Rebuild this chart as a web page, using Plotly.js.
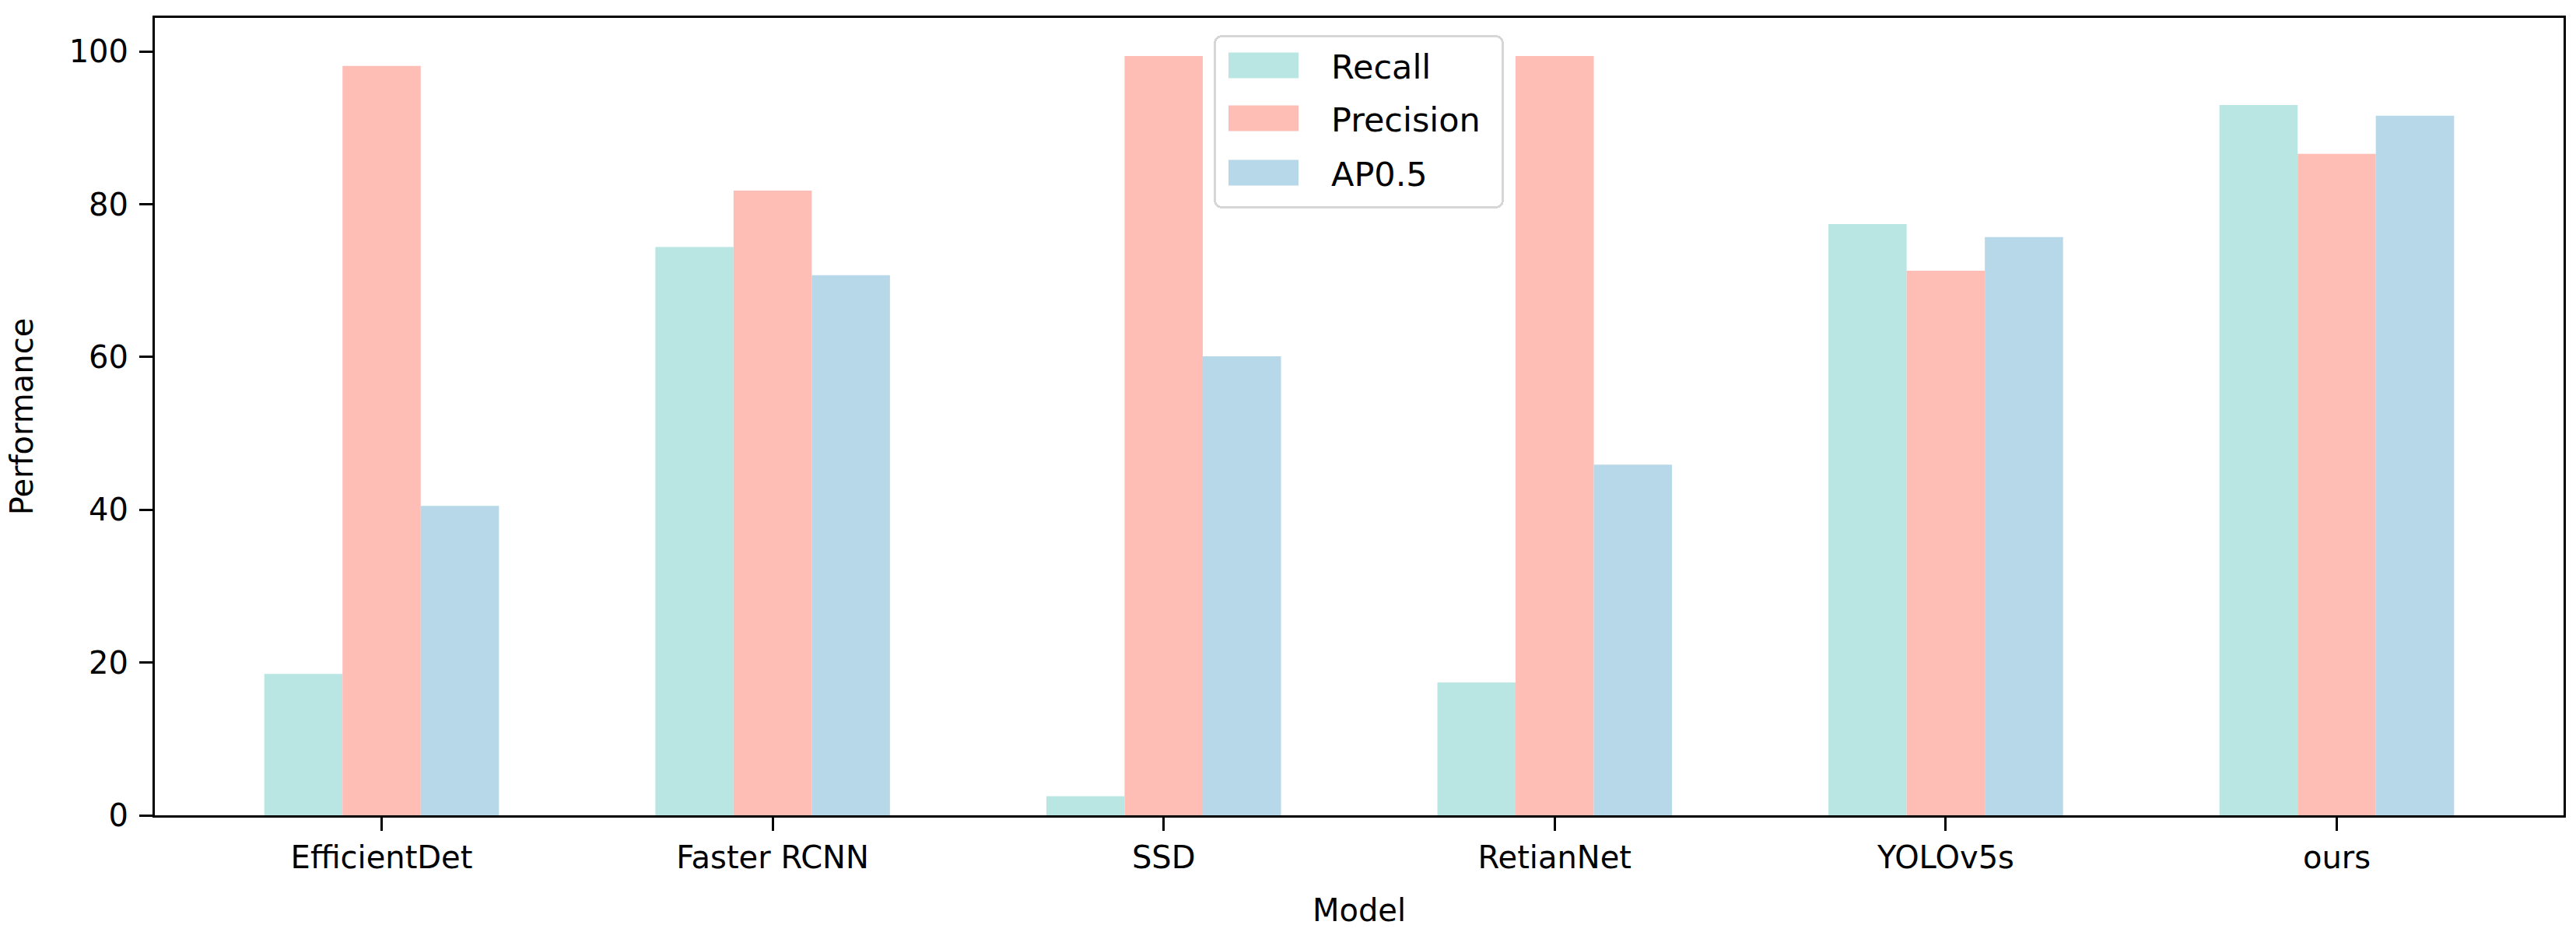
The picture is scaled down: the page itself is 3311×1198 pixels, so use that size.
<!DOCTYPE html>
<html>
<head>
<meta charset="utf-8">
<script src="https://cdn.plot.ly/plotly-3.0.1.min.js"></script>
<style>html,body{margin:0;padding:0;background:#fff;}</style>
</head>
<body>
<div id="chart" style="width:3311px;height:1198px;"></div>
<script>
const models = ["EfficientDet", "Faster RCNN", "SSD", "RetianNet", "YOLOv5s", "ours"];
const recall = [18.5, 74.4, 2.5, 17.4, 77.4, 93.0];
const precision = [98.1, 81.8, 99.4, 99.4, 71.3, 86.6];
const ap05 = [40.5, 70.7, 60.1, 45.9, 75.7, 91.6];
const yTicks = [0, 20, 40, 60, 80, 100];

const FONT = "DejaVu Sans, sans-serif";
const colors = {recall: "#b9e6e3", precision: "#febdb5", ap: "#b7d8e8"};

function barTrace(name, vals, color) {
  return {
    type: "bar", name: name, x: models, y: vals,
    marker: {color: color, line: {width: 0}},
    hoverinfo: "x+y+name"
  };
}

const data = [
  barTrace("Recall", recall, colors.recall),
  barTrace("Precision", precision, colors.precision),
  barTrace("AP0.5", ap05, colors.ap)
];

const layout = {
  width: 3311, height: 1198,
  margin: {l: 199, r: 16, t: 23, b: 150, pad: 0},
  paper_bgcolor: "#ffffff", plot_bgcolor: "#ffffff",
  font: {family: FONT, size: 40, color: "#000"},
  barmode: "group", bargap: 0.4, bargroupgap: 0,
  showlegend: true,
  legend: {
    x: 0.5, xanchor: "center", y: 0.978, yanchor: "top",
    bgcolor: "rgba(255,255,255,0.8)", bordercolor: "#d6d6d6", borderwidth: 3,
    font: {family: FONT, size: 43, color: "#000"},
    tracegroupgap: 0, itemwidth: 60
  },
  xaxis: {
    type: "category", range: [-0.58, 5.58],
    showline: true, linecolor: "#000", linewidth: 3, mirror: true,
    ticks: "outside", ticklen: 17, tickwidth: 3, tickcolor: "#000",
    showgrid: false, zeroline: false,
    tickfont: {family: FONT, size: 40, color: "#000"},
    title: {text: "Model", font: {family: FONT, size: 40, color: "#000"}, standoff: 32}
  },
  yaxis: {
    range: [0, 104.4], tickvals: yTicks, ticktext: yTicks.map(String),
    showline: true, linecolor: "#000", linewidth: 3, mirror: true,
    ticks: "outside", ticklen: 17, tickwidth: 3, tickcolor: "#000",
    ticklabelstandoff: 6,
    showgrid: false, zeroline: false,
    tickfont: {family: FONT, size: 40, color: "#000"},
    title: {text: "Performance", font: {family: FONT, size: 40, color: "#000"}, standoff: 34}
  }
};

function restyleLegend(gd) {
  try {
    const leg = gd.querySelector("g.legend");
    if (!leg) return;
    const boxW = 373, boxH = 223, boxX = 1560, boxY = 45;
    const rowCenters = [39, 107, 177];
    const symX0 = 19, symW = 90, symH = 33, textX = 151;
    leg.setAttribute("transform", "translate(" + boxX + "," + boxY + ")");
    const bg = leg.querySelector("rect.bg");
    if (bg) {
      bg.setAttribute("x", 1.5); bg.setAttribute("y", 1.5);
      bg.setAttribute("width", boxW - 3); bg.setAttribute("height", boxH - 3);
      bg.setAttribute("rx", 9); bg.setAttribute("ry", 9);
    }
    const sb = leg.querySelector("g.scrollbox");
    if (sb) { sb.removeAttribute("clip-path"); sb.setAttribute("transform", "translate(0,0)"); }
    const grp = leg.querySelector("g.groups");
    if (grp) grp.setAttribute("transform", "translate(0,0)");
    const items = leg.querySelectorAll("g.traces");
    items.forEach(function (g, i) {
      g.setAttribute("transform", "translate(0," + rowCenters[i] + ")");
      const gM = g.getCTM();
      const p = g.querySelector(".legendpoints path");
      if (p) {
        const pM = p.getCTM();
        const ox = pM.e - gM.e, oy = pM.f - gM.f;
        const x0 = symX0 - ox, y0 = -symH / 2 - oy;
        p.setAttribute("d", "M" + x0 + "," + y0 + "h" + symW + "v" + symH + "h" + (-symW) + "Z");
        p.style.strokeWidth = "0px";
      }
      const t = g.querySelector("text.legendtext");
      if (t) {
        const tM = t.getCTM();
        const ox = tM.e - gM.e;
        t.setAttribute("x", textX - ox);
      }
    });
  } catch (e) { console.log(e); }
}

Plotly.newPlot("chart", data, layout, {staticPlot: true, displayModeBar: false})
  .then(function (gd) { restyleLegend(gd); });
</script>
</body>
</html>
